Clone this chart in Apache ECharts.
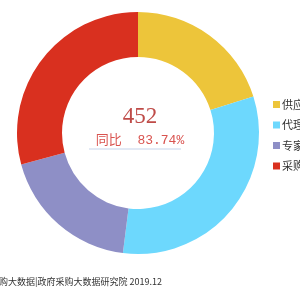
<!DOCTYPE html>
<html><head><meta charset="utf-8">
<script src="https://cdn.jsdelivr.net/npm/echarts@6/dist/echarts.min.js"></script>
<style>html,body{margin:0;padding:0;background:#fff}#c{width:300px;height:300px}</style>
</head><body><div id="c"></div>
<script>
var categories = ['供应商', '代理机构', '专家', '采购人'];
var values = [91, 144, 85, 132];
var colors = ['#edc53a', '#6dd8fd', '#8e8fc6', '#d9301f'];
var totalText = '452';
var ratioText = '同比  83.74%';
var sourceText = '数据来源：政府采购大数据|政府采购大数据研究院 2019.12';

var chart = echarts.init(document.getElementById('c'));
chart.setOption({
  animation: false,
  color: colors,
  title: {
    text: totalText,
    subtext: ratioText,
    left: 135, top: 100, textAlign: 'center',
    itemGap: 6,
    textStyle: {fontFamily: 'Liberation Serif', fontSize: 23, lineHeight: 23, fontWeight: 'normal', color: '#bf4b48'},
    subtextStyle: {fontFamily: 'Liberation Mono, Noto Sans CJK SC', fontSize: 13, lineHeight: 14, color: '#d9534f'}
  },
  legend: {
    orient: 'vertical', left: 268, top: 94, itemWidth: 7, itemHeight: 7, itemGap: 9.5,
    icon: 'rect',
    textStyle: {fontSize: 11, lineHeight: 11, color: '#333', fontFamily: 'Noto Sans CJK SC', padding: [0,0,0,-3]},
    data: categories
  },
  graphic: [
    {type: 'line', shape: {x1: 89, y1: 149, x2: 181, y2: 149}, style: {stroke: '#c5d3ea', lineWidth: 1}},
    {type: 'text', right: 138, top: 277, style: {text: sourceText, fontSize: 9, fill: '#333', fontFamily: 'Noto Sans CJK SC'}}
  ],
  series: [{
    type: 'pie',
    center: [138, 133],
    radius: [76, 121],
    startAngle: 90,
    label: {show: false},
    labelLine: {show: false},
    itemStyle: {borderColor: '#fff', borderWidth: 0},
    data: categories.map(function (c, i) { return {name: c, value: values[i]}; })
  }]
});
</script></body></html>
